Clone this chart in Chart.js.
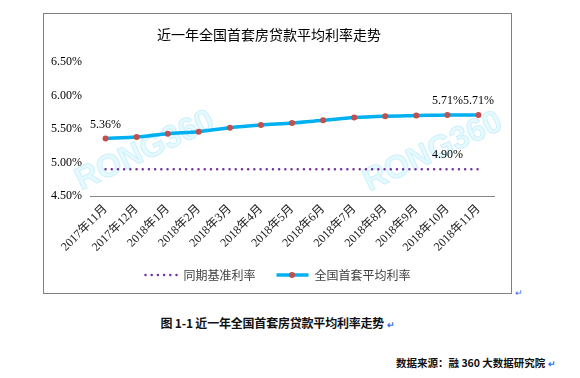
<!DOCTYPE html>
<html>
<head>
<meta charset="utf-8">
<script src="https://cdn.jsdelivr.net/npm/chart.js@4.4.0/dist/chart.umd.min.js"></script>
<style>
  body { margin: 0; background: #fff; width: 580px; height: 378px; position: relative; overflow: hidden; font-family: "Noto Sans CJK SC", sans-serif; }
  #box { position: absolute; left: 43px; top: 13px; width: 467px; height: 279px; border: 1px solid #808080; }
  #box canvas { position: absolute; left: 0; top: 0; }
  .mark { color: #2f6df0; font-size: 9px; }
  #caption { position: absolute; left: 0; width: 555px; top: 314px; text-align: center; font-size: 12px; font-weight: bold; color: #111; letter-spacing: -0.2px; }
  #source { position: absolute; left: 396px; top: 355px; font-size: 10.5px; font-weight: bold; color: #111; white-space: nowrap; }
  #pm1 { position: absolute; left: 515px; top: 286px; }
</style>
</head>
<body>
<div id="box"><canvas id="rateChart" width="467" height="279"></canvas></div>
<span id="pm1" class="mark">↵</span>
<div id="caption">图 1-1 近一年全国首套房贷款平均利率走势 <span class="mark">↵</span></div>
<div id="source">数据来源：融 360 大数据研究院 <span class="mark">↵</span></div>
<script>
// Chart data
const months = ['2017年11月', '2017年12月', '2018年1月', '2018年2月', '2018年3月', '2018年4月',
  '2018年5月', '2018年6月', '2018年7月', '2018年8月', '2018年9月', '2018年10月', '2018年11月'];
const baseRate = [4.90, 4.90, 4.90, 4.90, 4.90, 4.90, 4.90, 4.90, 4.90, 4.90, 4.90, 4.90, 4.90];
const avgRate = [5.36, 5.38, 5.43, 5.46, 5.52, 5.56, 5.59, 5.63, 5.67, 5.69, 5.70, 5.71, 5.71];
const yTicks = [4.5, 5.0, 5.5, 6.0, 6.5];
// which points carry a value label
const baseLabelIdx = [11];
const avgLabelIdx = [0, 11, 12];

const serif = '"Liberation Serif", "Noto Sans CJK SC", serif';

// Watermark behind the lines
const watermarkPlugin = {
  id: 'watermark',
  beforeDatasetsDraw(chart) {
    const ctx = chart.ctx;
    const spots = [[101, 137], [389, 138]];
    ctx.save();
    ctx.font = 'bold 32px "Liberation Sans", Arial, sans-serif';
    ctx.textAlign = 'center';
    ctx.textBaseline = 'middle';
    spots.forEach(([x, y]) => {
      ctx.save();
      ctx.translate(x, y);
      ctx.rotate(-25 * Math.PI / 180);
      ctx.fillStyle = '#e6f9fe';
      ctx.fillText('RONG360', 0, 0);
      ctx.lineWidth = 1;
      ctx.strokeStyle = '#cdf1fb';
      ctx.strokeText('RONG360', 0, 0);
      ctx.restore();
    });
    ctx.restore();
  }
};

// Value labels above selected points
const valueLabelPlugin = {
  id: 'valueLabels',
  afterDatasetsDraw(chart) {
    const ctx = chart.ctx;
    ctx.save();
    ctx.font = '12px ' + serif;
    ctx.fillStyle = '#000';
    ctx.textAlign = 'center';
    ctx.textBaseline = 'middle';
    [[0, baseLabelIdx], [1, avgLabelIdx]].forEach(([di, idxs]) => {
      const meta = chart.getDatasetMeta(di);
      const data = chart.data.datasets[di].data;
      idxs.forEach(i => {
        const pt = meta.data[i];
        ctx.fillText(data[i].toFixed(2) + '%', pt.x, pt.y - 14);
      });
    });
    ctx.restore();
  }
};

// Legend at the bottom, drawn by hand so the samples look like the line styles
const bottomLegendPlugin = {
  id: 'bottomLegend',
  afterDraw(chart) {
    const ctx = chart.ctx;
    const ds = chart.data.datasets;
    const sample = 33, gap = 6, itemGap = 20, y = 261;
    ctx.save();
    ctx.font = '12px "Noto Sans CJK SC", sans-serif';
    const widths = ds.map(d => ctx.measureText(d.label).width);
    const total = widths.reduce((a, w) => a + sample + gap + w, 0) + itemGap * (ds.length - 1);
    let x = (chart.width - total) / 2;
    ds.forEach((d, i) => {
      ctx.save();
      ctx.strokeStyle = d.borderColor;
      ctx.lineWidth = d.borderWidth;
      ctx.lineCap = d.borderCapStyle || 'butt';
      ctx.setLineDash(d.borderDash || []);
      ctx.beginPath();
      ctx.moveTo(x + 1, y);
      ctx.lineTo(x + sample, y);
      ctx.stroke();
      ctx.restore();
      if (d.pointRadius > 0) {
        ctx.fillStyle = d.pointBackgroundColor;
        ctx.beginPath();
        ctx.arc(x + sample / 2, y, d.pointRadius, 0, Math.PI * 2);
        ctx.fill();
      }
      ctx.fillStyle = '#404040';
      ctx.textBaseline = 'middle';
      ctx.fillText(d.label, x + sample + gap, y);
      x += sample + gap + widths[i] + itemGap;
    });
    ctx.restore();
  }
};

const ctx = document.getElementById('rateChart').getContext('2d');
const chart = new Chart(ctx, {
  type: 'line',
  data: {
    labels: months,
    datasets: [{
      label: '同期基准利率',
      data: baseRate,
      borderColor: '#7030a0',
      borderWidth: 2.5,
      borderDash: [0, 6.2],
      borderCapStyle: 'round',
      pointRadius: 0,
      order: 2
    }, {
      label: '全国首套平均利率',
      data: avgRate,
      borderColor: '#00b0f0',
      borderWidth: 3.5,
      tension: 0.3,
      pointRadius: 3,
      pointHoverRadius: 3,
      pointBackgroundColor: '#c0504d',
      pointBorderColor: '#c0504d',
      pointBorderWidth: 0,
      order: 1
    }]
  },
  options: {
    responsive: false,
    animation: false,
    events: [],
    layout: { padding: { left: 0, right: 17, top: 0, bottom: 0 } },
    plugins: {
      legend: { display: false },
      tooltip: { enabled: false },
      title: {
        display: true,
        text: '近一年全国首套房贷款平均利率走势',
        color: '#000',
        font: { family: '"Noto Sans CJK SC", sans-serif', size: 14, weight: 'normal', lineHeight: 1.2 },
        padding: { top: 12.6, bottom: 18.6 }
      }
    },
    scales: {
      x: {
        offset: true,
        grid: { display: false, drawTicks: false },
        border: { display: true, color: '#868686', width: 1 },
        ticks: {
          minRotation: 45, maxRotation: 45, autoSkip: false, padding: 6,
          color: '#222', font: { family: serif, size: 12 }
        },
        afterFit(scale) { scale.height = 97; }
      },
      y: {
        min: 4.5, max: 6.5,
        grid: { display: false, drawTicks: false },
        border: { display: false },
        afterBuildTicks(scale) { scale.ticks = yTicks.map(v => ({ value: v })); },
        ticks: {
          padding: 8, color: '#000', font: { family: serif, size: 12 },
          callback: v => v.toFixed(2) + '%'
        },
        afterFit(scale) { scale.width = 46; }
      }
    }
  },
  plugins: [watermarkPlugin, valueLabelPlugin, bottomLegendPlugin]
});
</script>
</body>
</html>
